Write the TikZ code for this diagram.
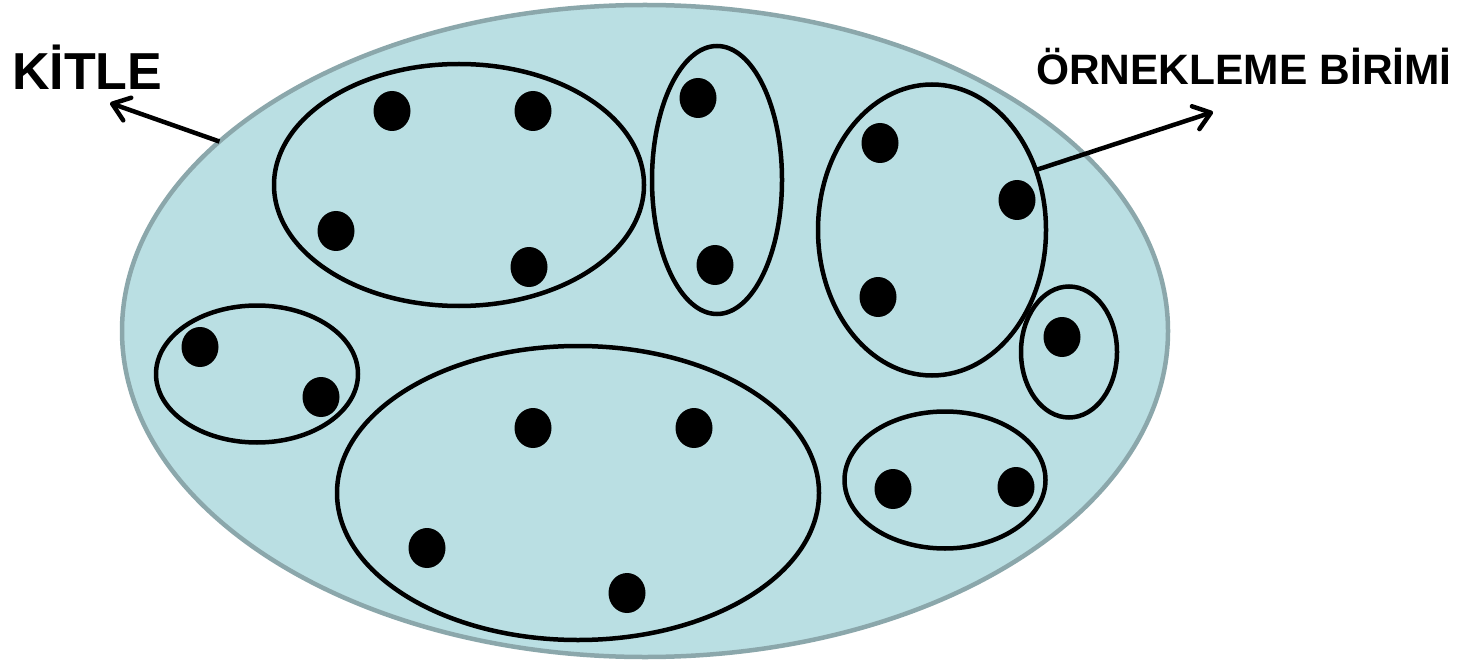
\documentclass[tikz,border=0pt]{standalone}
\usepackage{fontspec}
\setmainfont{Liberation Sans}
\usetikzlibrary{shapes.geometric,arrows.meta}
\definecolor{popfill}{RGB}{186,223,227}
\definecolor{popedge}{RGB}{139,167,171}
\tikzset{
  outerpop/.style={ellipse,draw=popedge,fill=popfill,line width=4.5pt,inner sep=0pt,outer sep=0pt},
  unitell/.style={ellipse,draw=black,line width=4.5pt,inner sep=0pt,outer sep=0pt},
  dotmark/.style={ellipse,fill=black,inner sep=0pt,minimum width=37pt,minimum height=40pt},
  lbl/.style={inner sep=0pt,anchor=base west,font=\bfseries},
  pointer/.style={line width=4.5pt,-{Straight Barb[length=16pt,width=24pt,line width=4.5pt,round]}}
}
\begin{document}
\begin{tikzpicture}[x=1pt,y=-1pt]
\useasboundingbox (0,0) rectangle (1474,660);
\node[outerpop,minimum width=1046pt,minimum height=652pt] (pop) at (645,331) {};
\node[unitell,minimum width=370pt,minimum height=242pt] (e1) at (459,185) {};
\node[unitell,minimum width=130pt,minimum height=268pt] (e2) at (717,180) {};
\node[unitell,minimum width=228pt,minimum height=291pt] (e3) at (932,230) {};
\node[unitell,minimum width=96pt,minimum height=131pt] (e4) at (1069,352) {};
\node[unitell,minimum width=202pt,minimum height=137pt] (e5) at (257,374) {};
\node[unitell,minimum width=482pt,minimum height=294pt] (e6) at (578,493) {};
\node[unitell,minimum width=201pt,minimum height=137pt] (e7) at (945,480) {};
% dots
\node[dotmark] (d1) at (392,111) {};
\node[dotmark] (d2) at (533,111) {};
\node[dotmark] (d3) at (336,231) {};
\node[dotmark] (d4) at (529,267) {};
\node[dotmark] (d5) at (698,98) {};
\node[dotmark] (d6) at (715,265) {};
\node[dotmark] (d7) at (880,143) {};
\node[dotmark] (d8) at (1017,200) {};
\node[dotmark] (d9) at (878,297) {};
\node[dotmark] (d10) at (1062,337) {};
\node[dotmark] (d11) at (200,347) {};
\node[dotmark] (d12) at (321,397) {};
\node[dotmark] (d13) at (533,428) {};
\node[dotmark] (d14) at (694,428) {};
\node[dotmark] (d15) at (427,548) {};
\node[dotmark] (d16) at (627,593) {};
\node[dotmark] (d17) at (893,489) {};
\node[dotmark] (d18) at (1016,487) {};
% labels
\node[lbl,font=\fontsize{52}{60}\selectfont\bfseries] (kitle) at (12,90) {KİTLE};
\node[lbl,font=\fontsize{42.5}{50}\selectfont\bfseries] (birim) at (1036,85) {ÖRNEKLEME BİRİMİ};
\coordinate (kt) at (110,103);
\coordinate (bt) at (1213,112);
\draw[pointer] (pop.156.8) -- (kt);
\draw[pointer] (e3.30.3) -- (bt);
\end{tikzpicture}
\end{document}
